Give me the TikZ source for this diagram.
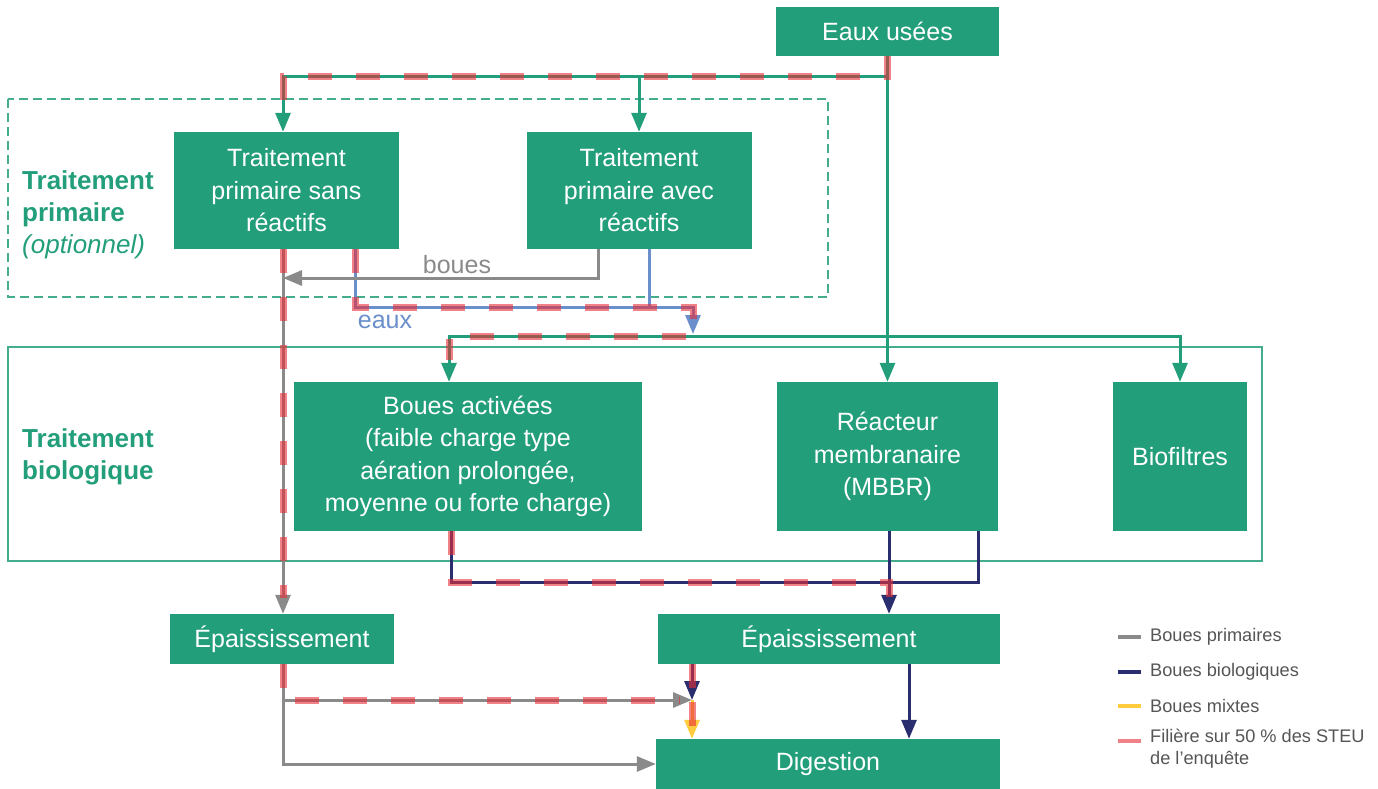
\documentclass[tikz,border=0pt]{standalone}
\usepackage{fontspec}
\setmainfont{Liberation Sans}
\usetikzlibrary{arrows.meta}
\definecolor{vert}{RGB}{34,158,122}
\definecolor{gris}{RGB}{138,138,138}
\definecolor{marine}{RGB}{43,46,110}
\definecolor{bleu}{RGB}{106,143,203}
\definecolor{jaune}{RGB}{255,204,61}
\definecolor{rouge}{RGB}{230,45,55}
\definecolor{texte}{RGB}{85,85,85}
\tikzset{
  box/.style={fill=vert,text=white,align=center,inner sep=0pt,font=\fontsize{25}{32.5}\selectfont},
  titre/.style={text=vert,align=left,anchor=west,inner sep=0pt,font=\fontsize{26}{32}\selectfont\bfseries},
  flux/.style={line width=3pt,-{Triangle[width=15pt,length=19pt]}},
  lien/.style={line width=3pt},
  filiere/.style={draw=rouge,draw opacity=0.6,line width=7pt,dash pattern=on 24pt off 24pt},
  legende/.style={text=texte,anchor=west,align=left,inner sep=0pt,font=\fontsize{18.2}{21.5}\selectfont},
}

\begin{document}
\begin{tikzpicture}[x=1pt,y=-1pt]
\useasboundingbox (0,0) rectangle (1378,789);
% FRAMES
\draw [vert!85,line width=1.5pt,dash pattern=on 9pt off 5pt] (8,99) rectangle (828,297);
\draw [vert!85,line width=1.5pt] (8,347) rectangle (1262,561);
\node [titre] (tprim) at (22,215) {Traitement\\primaire\\{\normalfont\itshape (optionnel)}};
\node [titre] (tbio) at (22,457) {Traitement\\biologique};
% BOXES
\node [box,minimum width=223pt,minimum height=49pt] (eaux) at (887.5,31.5) {Eaux usées};
\node [box,minimum width=225pt,minimum height=117pt] (sans) at (286.5,190.5) {Traitement\\primaire sans\\réactifs};
\node [box,minimum width=225pt,minimum height=117pt] (avec) at (639,190.5) {Traitement\\primaire avec\\réactifs};
\node [box,minimum width=348pt,minimum height=149pt] (ba) at (468,456.5) {Boues activées\\(faible charge type\\aération prolongée,\\moyenne ou forte charge)};
\node [box,minimum width=221pt,minimum height=149pt] (mbbr) at (887.5,456.5) {Réacteur\\membranaire\\(MBBR)};
\node [box,minimum width=134pt,minimum height=149pt] (biof) at (1180,456.5) {Biofiltres};
\node [box,minimum width=224pt,minimum height=50pt] (epaisG) at (282,639) {Épaississement};
\node [box,minimum width=342pt,minimum height=50pt] (epaisD) at (829,639) {Épaississement};
\node [box,minimum width=344pt,minimum height=50pt] (digestion) at (828,764) {Digestion};
% JUNCTIONS
\coordinate (retour) at (283,278);
\coordinate (eauxcoll) at (693,307);
\coordinate (distrib) at (693,336);
\coordinate (bio) at (889,582);
\coordinate (melange) at (692,700);
% WATER LINES
\draw [flux,vert] (eaux.south) -- ++(0,20) coordinate (bus) -| ([xshift=-3.5pt]sans.north);
\draw [flux,vert] (bus -| avec.north) -- (avec.north);
\draw [flux,vert] (eaux.south) -- (mbbr.north);
\draw [flux,vert] (distrib) -| ([xshift=-19pt]ba.north);
\draw [flux,vert] (distrib) -| (biof.north);
\draw [lien,bleu] ([xshift=10pt]avec.south) -- ([xshift=10pt]avec.south |- eauxcoll);
\draw [flux,bleu,shorten >=2pt] ([xshift=68.5pt]sans.south) |- (eauxcoll) -- (distrib);
\node [text=bleu,font=\fontsize{25}{30}\selectfont] (leaux) at (385,322) {eaux};
% SLUDGE LINES
\draw [flux,gris] (sans.south -| retour) -- (retour |- epaisG.north);
\draw [flux,gris] ([xshift=-41pt]avec.south) |- (retour);
\node [text=gris,font=\fontsize{25}{30}\selectfont] (lboues) at (457,265) {boues};
\draw [flux,gris] (epaisG.south -| retour) |- (digestion.west);
\draw [flux,gris] (retour |- melange) -- (melange);
\draw [lien,marine] ([xshift=1.5pt]mbbr.south) -- (bio);
\draw [lien,marine] ([xshift=90.5pt]mbbr.south) |- (bio);
\draw [flux,marine] ([xshift=-17pt]ba.south) |- (bio) -- (bio |- epaisD.north);
\draw [flux,marine] (epaisD.south -| melange) -- (melange);
\draw [flux,marine] ([xshift=80pt]epaisD.south) -- ([xshift=80pt]epaisD.south |- digestion.north);
\draw [flux,jaune] (melange) -- (melange |- digestion.north);
% FILIERE 50 %
\draw [filiere,shorten >=24pt] (eaux.south) -- (bus) -| ([xshift=-3.5pt]sans.north);
\draw [filiere,shorten >=16pt] (sans.south -| retour) -- (retour |- epaisG.north);
\draw [filiere,shorten >=22pt] ([xshift=68.5pt]sans.south) |- (eauxcoll) -- (distrib) -| ([xshift=-19pt]ba.north);
\draw [filiere,shorten >=12pt] ([xshift=-17pt]ba.south) |- (bio) -- (bio |- epaisD.north);
\draw [filiere,shorten >=12pt] (epaisG.south -| retour) |- (melange);
\draw [filiere,shorten >=12pt] (epaisD.south -| melange) -- (melange);
\draw [filiere,shorten >=13pt] ([yshift=-2pt]melange) -- (melange |- digestion.north);
% LEGEND
\draw [gris,line width=4pt] (1118,637) -- (1141,637);
\node [legende] (lg1) at (1150,637) {Boues primaires};
\draw [marine,line width=4pt] (1118,672) -- (1141,672);
\node [legende] (lg2) at (1150,672) {Boues biologiques};
\draw [jaune,line width=4pt] (1118,706) -- (1141,706);
\node [legende] (lg3) at (1150,706) {Boues mixtes};
\draw [rouge,draw opacity=0.6,line width=4pt] (1118,741) -- (1141,741);
\node [legende,anchor=north west] (lg4) at (1150,729) {Filière sur 50 \% des STEU\\de l’enquête};
\end{tikzpicture}
\end{document}
